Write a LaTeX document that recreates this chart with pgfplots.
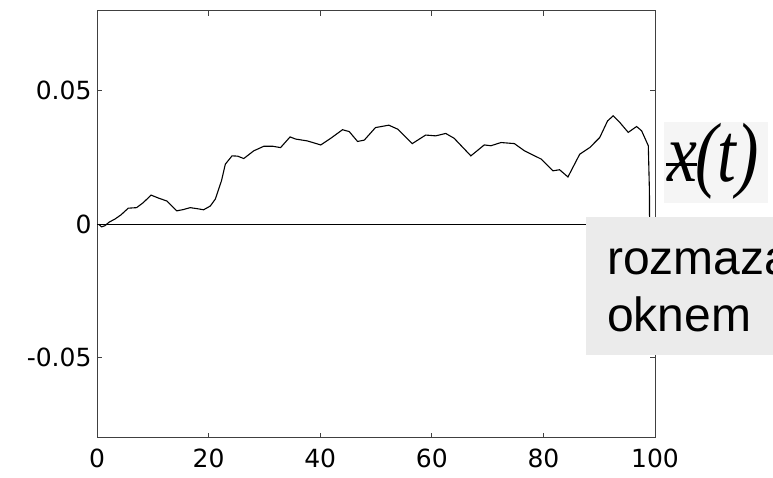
\documentclass[border=0pt]{standalone}
\usepackage{pgfplots}
\pgfplotsset{compat=1.18}
\usepackage{fontspec}
\setmainfont{Liberation Sans}
\newfontfamily\timesf{Liberation Serif}
\newfontfamily\tickf{DejaVu Sans}
\begin{document}
\begin{tikzpicture}[x=1pt,y=1pt]
\path[use as bounding box] (0,0) rectangle (773,478);
\clip (0,0) rectangle (773,478);
\begin{axis}[
  at={(97pt,40.3pt)}, anchor=south west, scale only axis,
  width=558pt, height=427pt,
  xmin=0, xmax=100, ymin=-0.08, ymax=0.08,
  xtick={0,20,40,60,80,100},
  ytick={-0.05,0,0.05}, yticklabels={-0.05,0,0.05},
  scaled y ticks=false,
  tick align=inside, major tick length=5pt,
  axis line style={line width=1pt, color=black!75},
  tick style={line width=0.8pt, color=black!75},
  ticklabel style={font=\tickf\fontsize{25}{29}\selectfont},
  xticklabel style={yshift=-8pt},
  yticklabel style={xshift=-2pt},
  /pgf/number format/assume math mode=true,
  clip=false,
]
\addplot[black, line width=1pt] coordinates {(0,0) (99,0)};
\addplot[black, line width=1.1pt] coordinates {
(0.3,0) (0.8,-0.001) (1.4,-0.0006) (2.2,0.0008) (3.2,0.0019) (4.3,0.0035) (5.6,0.006) (7.1,0.0062) (8.3,0.0081) (9.7,0.0109) (11,0.0098) (12.5,0.0087) (14.3,0.005) (15.5,0.0055) (16.7,0.0062) (18,0.0058) (19.1,0.0054) (20.3,0.0068) (21.2,0.0094) (22.3,0.0162) (23.0,0.0225) (24.2,0.0256) (25.2,0.0255) (26.3,0.0246) (28.1,0.0275) (29.9,0.0292) (31.5,0.0292) (32.9,0.0287) (34.6,0.0327) (35.6,0.0319) (37.7,0.0312) (40.1,0.0297) (41.9,0.0322) (44.0,0.0354) (45.2,0.0347) (46.7,0.031) (47.9,0.0315) (49.9,0.0362) (52.3,0.0371) (53.9,0.0356) (56.5,0.0302) (58.9,0.0334) (60.7,0.0331) (62.5,0.034) (64.0,0.0322) (67.0,0.0256) (69.4,0.0297) (70.6,0.0294) (72.4,0.0306) (74.8,0.0302) (76.6,0.0275) (79.6,0.0244) (81.7,0.02) (82.9,0.0204) (84.4,0.0177) (86.5,0.0262) (88.3,0.0287) (90.1,0.0325) (91.5,0.0387) (92.5,0.0406) (93.7,0.0381) (95.2,0.0344) (96.7,0.0366) (97.6,0.035) (98.8,0.0294) (99.0,0.0125) (99.1,-0.03) (99.4,-0.03) (99.4,0.0)
};
\end{axis}
\fill[black!4] (664,275) rectangle (768,356);
\node[anchor=base west, inner sep=0pt] at (667,296) {\scalebox{0.8}[1]{\fontsize{84}{84}\selectfont\timesf\itshape \rlap{\raisebox{0.19em}{\kern-0.02em\rule{0.46em}{0.035em}}}x\kern-0.03em(t)}};
\fill[black!8] (586,123) rectangle (800,261);
\node[anchor=base west, inner sep=0pt, align=left] at (607,203) {\fontsize{48}{48}\selectfont rozmazaný};
\node[anchor=base west, inner sep=0pt, align=left] at (607,146) {\fontsize{48}{48}\selectfont oknem};
\end{tikzpicture}
\end{document}
